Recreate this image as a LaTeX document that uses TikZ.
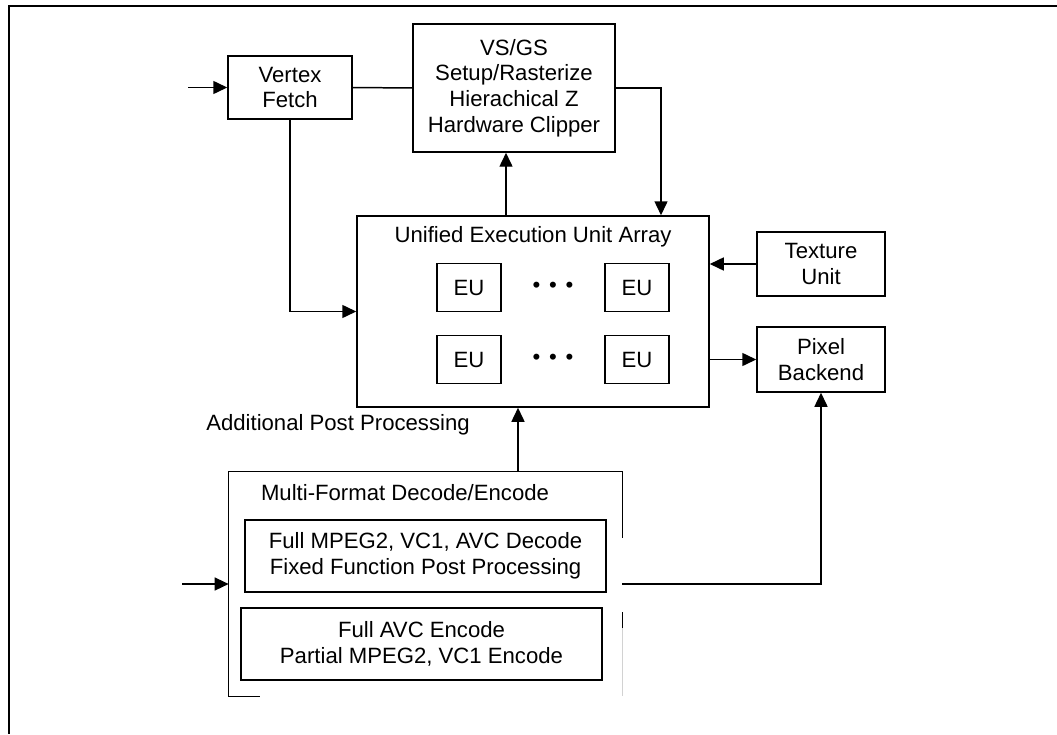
\documentclass[tikz,border=0pt]{standalone}
\usepackage{fontspec}
\setmainfont{Liberation Sans}
\usetikzlibrary{arrows.meta, positioning}
\tikzset{%
	block/.style={
		draw,
		line width=0.85pt,
		align=center,
		inner sep=0pt
	},
	eu block/.style={
		block,
		minimum width=1.28cm,
		minimum height=0.96cm
	},
	side block/.style={
		block,
		minimum width=2.56cm,
		minimum height=1.28cm
	},
	codec block/.style={
		block,
		minimum width=7.22cm,
		minimum height=1.44cm
	},
	flow/.style={
		line width=0.85pt,
		-{Triangle[length=0.28cm,width=0.26cm]}
	},
}

\begin{document}
\begin{tikzpicture}[font=\fontsize{12.6}{14.6}\selectfont]
	\useasboundingbox (0,0) rectangle (21.14,14.68);
	% Frame
	\draw[line width=1.2pt] (21.14,14.56) -- (0.18,14.56) -- (0.18,0);

	% Front end
	\node[block, minimum width=2.48cm, minimum height=1.26cm] (vfetch) at (5.80,12.93) {Vertex\\Fetch};
	\node[block, minimum width=4.04cm, minimum height=2.56cm] (vsgs) at (10.28,12.92) {VS/GS\\Setup/Rasterize\\Hierachical Z\\Hardware Clipper};

	% Unified array
	\node[block, minimum width=7.04cm, minimum height=3.82cm] (ueu) at (10.66,8.45) {};
	\node (ueutitle) at (10.66,9.94) {Unified Execution Unit Array};
	\foreach \row/\y in {a/8.93, b/7.49} {
		\node[eu block] (eu\row1) at (9.38,\y) {EU};
		\node (dots\row) at (11.06,\y) {\textbullet\hspace{0.4em}\textbullet\hspace{0.4em}\textbullet};
		\node[eu block] (eu\row2) at (12.74,\y) {EU};
	}

	% Side units
	\node[side block] (texture) at (16.42,9.40) {Texture\\Unit};
	\node[side block, minimum height=1.30cm] (pixel) at (16.42,7.49) {Pixel\\Backend};

	\node (postproc) at (6.76,6.18) {Additional Post Processing};

	% Multi-format decode/encode
	\node[minimum width=7.86cm, minimum height=4.48cm, inner sep=0pt] (mfd) at (8.51,3.00) {};
	\draw[line width=0.85pt] ([xshift=0.62cm]mfd.south west) -- (mfd.south west) -- (mfd.north west) -- (mfd.north east) -- ++(0,-1.32);
	\draw[line width=0.85pt] ([yshift=-0.56cm]mfd.east) -- ([yshift=-0.88cm]mfd.east);
	\draw[line width=0.5pt, gray!35] ([yshift=-0.88cm]mfd.east) -- (mfd.south east);
	\node (mfdtitle) at (8.10,4.82) {Multi-Format Decode/Encode};
	\node[codec block] (decode) at (8.51,3.56) {Full MPEG2, VC1, AVC Decode\\Fixed Function Post Processing};
	\node[codec block] (encode) at (8.43,1.80) {Full AVC Encode\\Partial MPEG2, VC1 Encode};

	% Connectors
	\coordinate (vfin) at (3.76,12.93);
	\coordinate (drop) at (13.22,0);
	\coordinate (feedup) at (10.12,0);
	\coordinate (mfdup) at (10.36,0);
	\coordinate (mfdin) at (3.64,3.00);
	\draw[flow] (vfin) -- (vfetch.west);
	\draw[line width=0.85pt] (vfetch.east) -- (vsgs.west);
	\draw[flow] (vsgs.east) -| (drop |- ueu.north);
	\draw[flow] (feedup |- ueu.north) -- (feedup |- vsgs.south);
	\draw[flow] (vfetch.south) |- (ueu.west);
	\draw[flow] (texture.west) -- (texture.west -| ueu.east);
	\draw[flow] (ueu.east |- pixel.west) -- (pixel.west);
	\draw[flow] (mfdup |- mfd.north) -- (mfdup |- ueu.south);
	\draw[flow] (mfdin) -- (mfd.west);
	\draw[flow] (mfd.east) -| (pixel.south);
\end{tikzpicture}
\end{document}
